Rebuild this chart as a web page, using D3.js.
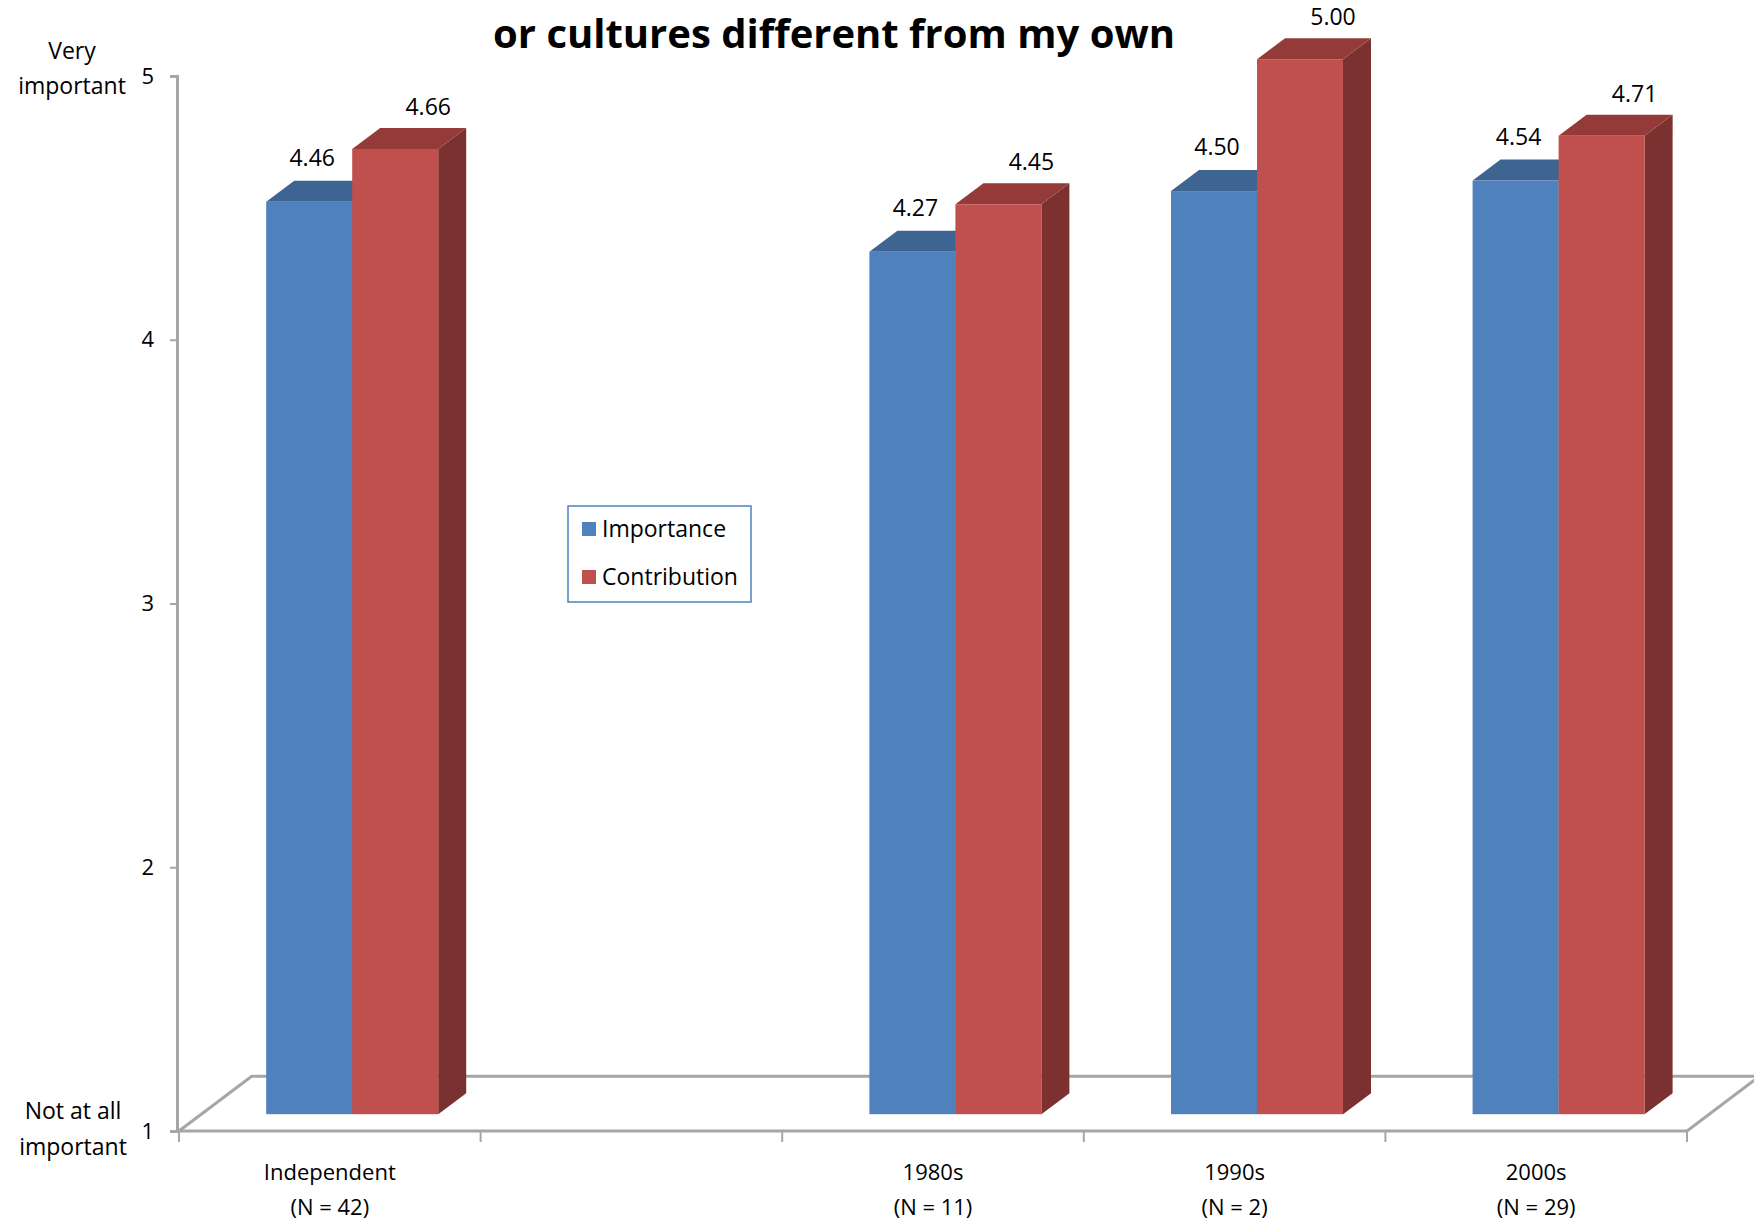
<!DOCTYPE html>
<html>
<head>
<meta charset="utf-8">
<script src="https://cdn.jsdelivr.net/npm/d3@7"></script>
<style>
  html, body { margin: 0; padding: 0; background: #fff; }
  svg { display: block; }
  text { font-family: "Open Sans", "Noto Sans", sans-serif; fill: #000; }
</style>
</head>
<body>
<svg id="chart" width="1754" height="1225"></svg>
<script>
// ---- data ----
const categories = ["Independent", "", "1980s", "1990s", "2000s"];
const nLabels = ["(N = 42)", "", "(N = 11)", "(N = 2)", "(N = 29)"];
const importance = [4.46, null, 4.27, 4.50, 4.54];
const contribution = [4.66, null, 4.45, 5.00, 4.71];
const yTicks = [1, 2, 3, 4, 5];
const seriesNames = ["Importance", "Contribution"];
const titleText = "or cultures different from my own";

// ---- layout ----
const svg = d3.select("#chart");
const x0 = 179, x1 = 1687;
const yBottom = 1131, yTop = 76;
const floorDX = 72.7, floorDY = -54.8;   // depth of the floor
const frontDX = 22.4, frontDY = -16.8;   // bars' front plane offset
const barDX = 28, barDY = -21;           // bar depth
const barW = 86;

const keys = categories.map((c, i) => "c" + i);
const x = d3.scaleBand().domain(keys).range([x0, x1]).padding(0);
const y = d3.scaleLinear().domain([1, 5]).range([yBottom, yTop]);

const colors = {
  Importance: { front: "#4F81BD", top: "#3E6592", side: "#385D8A" },
  Contribution: { front: "#C0504D", top: "#943B39", side: "#7B3130" }
};

// ---- floor ----
const floorColor = "#A6A6A6";
svg.append("path")
  .attr("d", `M${x0},${yBottom} L${x0 + floorDX},${yBottom + floorDY} L${x1 + floorDX},${yBottom + floorDY} L${x1},${yBottom}`)
  .attr("fill", "none").attr("stroke", floorColor).attr("stroke-width", 3);

// ---- bars ----
const bars = svg.append("g");
function drawBar(xl, v, c) {
  const yt = y(v) + frontDY, yb = y(1) + frontDY;
  const xr = xl + barW;
  bars.append("path")
    .attr("d", `M${xr},${yt} L${xr + barDX},${yt + barDY} L${xr + barDX},${yb + barDY} L${xr},${yb} Z`)
    .attr("fill", c.side);
  bars.append("path")
    .attr("d", `M${xl},${yt} L${xl + barDX},${yt + barDY} L${xr + barDX},${yt + barDY} L${xr},${yt} Z`)
    .attr("fill", c.top);
  bars.append("rect")
    .attr("x", xl).attr("y", yt).attr("width", barW).attr("height", yb - yt)
    .attr("fill", c.front);
}
const labels = svg.append("g");
keys.forEach((k, i) => {
  const cx = x(k) + x.bandwidth() / 2 + frontDX;
  if (importance[i] != null) drawBar(cx - barW, importance[i], colors.Importance);
  if (contribution[i] != null) drawBar(cx, contribution[i], colors.Contribution);
  if (importance[i] != null) {
    labels.append("text")
      .attr("x", cx - barW / 2 + 3).attr("y", y(importance[i]) + frontDY - 36)
      .attr("text-anchor", "middle").attr("font-size", 23)
      .text(importance[i].toFixed(2));
  }
  if (contribution[i] != null) {
    labels.append("text")
      .attr("x", cx + barW / 2 + 33).attr("y", y(contribution[i]) + frontDY - 34)
      .attr("text-anchor", "middle").attr("font-size", 23)
      .text(contribution[i].toFixed(2));
  }
});

// front floor edge
svg.append("line")
  .attr("x1", x0).attr("x2", x1).attr("y1", yBottom).attr("y2", yBottom)
  .attr("stroke", floorColor).attr("stroke-width", 3);

// ---- x axis ticks & labels ----
const xt = svg.append("g");
const boundaries = keys.map(k => x(k)).concat([x1]);
boundaries.forEach(b => {
  xt.append("line").attr("x1", b).attr("x2", b).attr("y1", yBottom).attr("y2", yBottom + 11)
    .attr("stroke", floorColor).attr("stroke-width", 2);
});
keys.forEach((k, i) => {
  const cx = x(k) + x.bandwidth() / 2;
  xt.append("text").attr("x", cx).attr("y", 1180).attr("text-anchor", "middle")
    .attr("font-size", 22).text(categories[i]);
  xt.append("text").attr("x", cx).attr("y", 1215).attr("text-anchor", "middle")
    .attr("font-size", 22).text(nLabels[i]);
});

// ---- y axis ----
const yAxis = svg.append("g").attr("transform", `translate(${x0 - 2},0)`)
  .call(d3.axisLeft(y).tickValues(yTicks).tickFormat(d3.format("d")).tickSize(7).tickPadding(16));
yAxis.select(".domain").attr("stroke", floorColor).attr("stroke-width", 3);
yAxis.selectAll(".tick line").attr("stroke", floorColor).attr("stroke-width", 2);
yAxis.selectAll(".tick text").attr("font-size", 22).attr("fill", "#000")
  .attr("font-family", '"Open Sans", "Noto Sans", sans-serif');

// end-of-scale descriptions
const desc = svg.append("g").attr("font-size", 23).attr("text-anchor", "middle");
desc.append("text").attr("x", 72).attr("y", 59).text("Very");
desc.append("text").attr("x", 72).attr("y", 94).text("important");
desc.append("text").attr("x", 73).attr("y", 1119).text("Not at all");
desc.append("text").attr("x", 73).attr("y", 1155).text("important");

// ---- title ----
svg.append("text").attr("x", 834).attr("y", 48).attr("text-anchor", "middle")
  .attr("font-size", 40).attr("font-weight", "bold").text(titleText);

// ---- legend ----
const lg = svg.append("g");
lg.append("rect").attr("x", 568).attr("y", 506).attr("width", 183).attr("height", 96)
  .attr("fill", "#fff").attr("stroke", "#4F81BD").attr("stroke-width", 1.5);
seriesNames.forEach((s, i) => {
  const cy = 529 + i * 48;
  lg.append("rect").attr("x", 582).attr("y", cy - 7).attr("width", 14).attr("height", 14)
    .attr("fill", colors[s].front);
  lg.append("text").attr("x", 602).attr("y", cy + 8).attr("font-size", 23).text(s);
});
</script>
</body>
</html>
